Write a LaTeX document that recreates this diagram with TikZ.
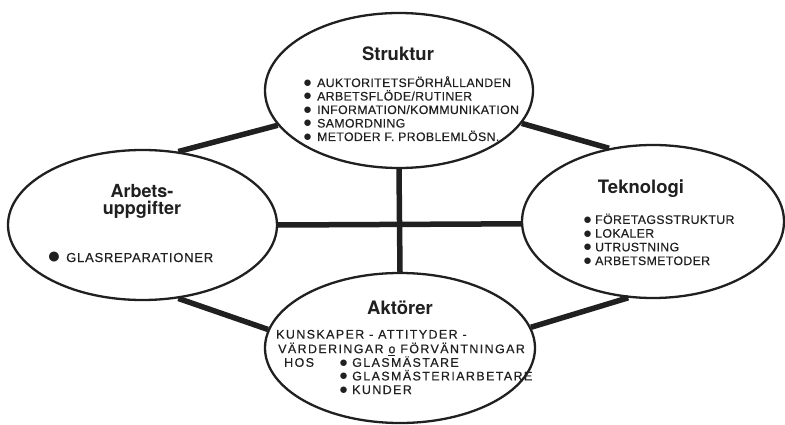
\documentclass[tikz,border=0pt]{standalone}
\usepackage{fontspec}
\setmainfont{TeX Gyre Heros}
\newfontfamily\handA[LetterSpace=3,FakeBold=0.4]{Liberation Sans}
\newfontfamily\handB[LetterSpace=6,FakeBold=0.4]{Liberation Sans}
\newfontfamily\handC[LetterSpace=11,FakeBold=0.4]{Liberation Sans}
\newfontfamily\bulfont{Liberation Sans}
\newcommand\bul[1][14pt]{\makebox[#1][l]{\smash{\bulfont\fontsize{15}{0}\selectfont\raisebox{-0.5pt}{●}}}}
\newcommand\bigbul{\makebox[19pt][l]{\smash{\bulfont\fontsize{23}{0}\selectfont\raisebox{-1.5pt}{●}}}}
\usetikzlibrary{shapes.geometric}
\definecolor{ink}{HTML}{202020}
\tikzset{
  oval/.style={draw=ink, line width=2.3pt, ellipse, inner sep=0pt},
  conn/.style={draw=ink, line width=5.5pt},
  ttl/.style={text=ink, font=\fontsize{18.5}{16}\selectfont\bfseries, align=center, inner sep=0pt},
  itm/.style={text=ink, font=\handA\fontsize{12.3}{13.5}\selectfont, align=left, anchor=base west, inner sep=0pt},
  itma/.style={text=ink, font=\handB\fontsize{13}{13}\selectfont, align=left, anchor=base west, inner sep=0pt},
  itmb/.style={text=ink, font=\handC\fontsize{12.5}{13.6}\selectfont, align=left, anchor=base west, inner sep=0pt},
}
\begin{document}
\begin{tikzpicture}[x=1pt,y=-1pt]
\useasboundingbox (0,0) rectangle (785,425);
\fill[white] (0,0) rectangle (785,425);
% ellipses
\node[oval, minimum width=268pt, minimum height=155pt] (str) at (399,90.5) {};
\node[oval, minimum width=269pt, minimum height=150pt] (arb) at (142.5,225) {};
\node[oval, minimum width=262pt, minimum height=153pt] (tek) at (653,221.5) {};
\node[oval, minimum width=270pt, minimum height=150pt] (akt) at (400,348) {};
% connectors
\draw[conn] (arb.64) -- (str.196);
\draw[conn] (str.345) -- (tek.121);
\draw[conn] (tek.252) -- (akt.9);
\draw[conn] (akt.172) -- (arb.296);
\draw[conn] (str.south) -- (akt.north);
\draw[conn] (arb.east) -- (tek.181);
% titles
\node[ttl] (tstr) at (398,54) {Struktur};
\node[ttl, font=\fontsize{18}{17}\selectfont\bfseries] (tarb) at (142,201) {Arbets-\\uppgifter};
\node[ttl] (ttek) at (641,189) {Teknologi};
\node[ttl] (takt) at (400,308) {Aktörer};
% Struktur items (base anchor = last line)
\node[itm] (sitems) at (303,141) {\bul AUKTORITETSFÖRHÅLLANDEN\\\bul ARBETSFLÖDE/RUTINER\\\bul INFORMATION/KOMMUNIKATION\\\bul SAMORDNING\\\bul METODER F. PROBLEMLÖSN.};
% Arbetsuppgifter item
\node[itma] (aitems) at (47,262) {\bigbul GLASREPARATIONER};
% Teknologi items
\node[itm, font=\handA\fontsize{12.3}{13.7}\selectfont] (titems) at (583,265) {\bul[12pt]FÖRETAGSSTRUKTUR\\\bul[12pt]LOKALER\\\bul[12pt]UTRUSTNING\\\bul[12pt]ARBETSMETODER};
% Aktörer items
\node[itmb] (kitems) at (276,394) {KUNSKAPER - ATTITYDER -\\[1pt]\hspace{2pt}VÄRDERINGAR \underline{o} FÖRVÄNTNINGAR\\\hspace{8pt}\makebox[55pt][l]{HOS}\bul[13pt]GLASMÄSTARE\\\hspace{63pt}\bul[13pt]GLASMÄSTERIARBETARE\\\hspace{63pt}\bul[13pt]KUNDER};
\end{tikzpicture}
\end{document}
